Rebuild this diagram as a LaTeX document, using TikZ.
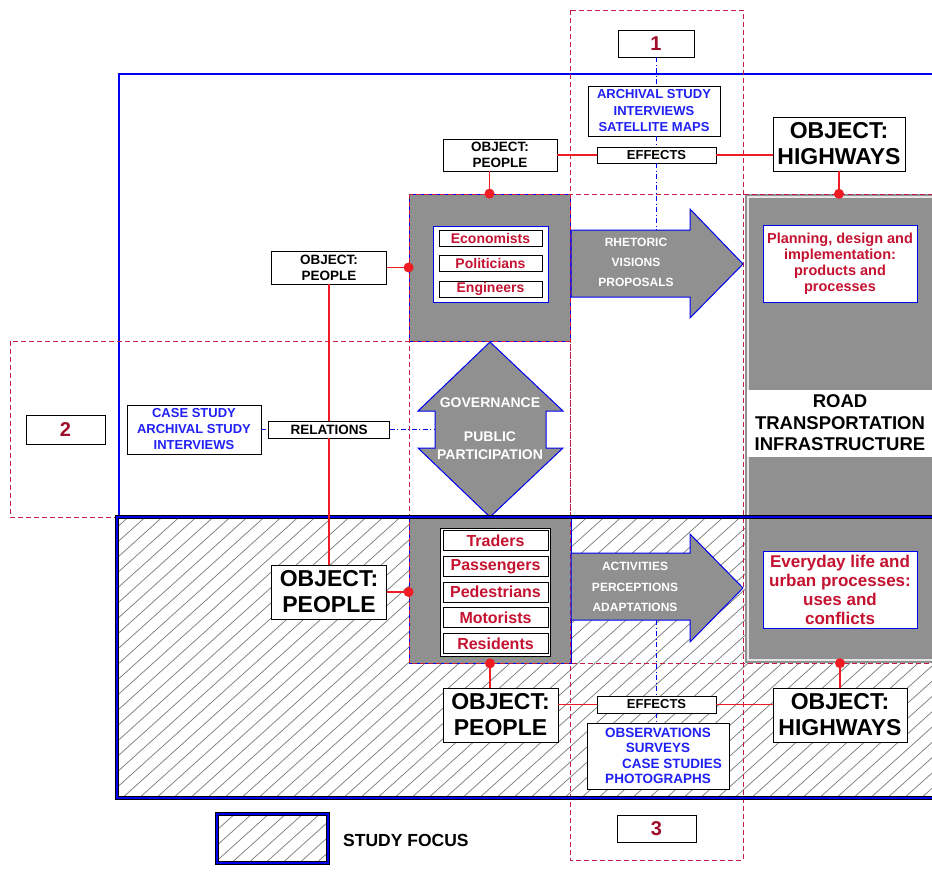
\documentclass[tikz,border=0pt]{standalone}
\usepackage{fontspec}
\setmainfont{Liberation Sans}
\usetikzlibrary{calc}

\definecolor{boxgray}{HTML}{909090}
\definecolor{txtred}{HTML}{C41230}
\definecolor{numred}{HTML}{9E0D2C}
\definecolor{linkred}{HTML}{F01C24}
\definecolor{dashred}{HTML}{C21E45}
\definecolor{txtblue}{HTML}{2020F5}
\definecolor{frameblue}{HTML}{0000F0}
\definecolor{hatchgray}{HTML}{7A7A7A}

\newcommand\fsz[2]{\fontsize{#1}{#2}\selectfont}

\tikzset{
  sz/.style 2 args={minimum width=#1, minimum height=#2},
  plainbox/.style={draw=black, line width=0.9pt, fill=white, inner sep=0pt, align=center, font=\bfseries},
  redbox/.style={plainbox, text=txtred},
  bluebox/.style={plainbox, text=txtblue},
  numbox/.style={plainbox, text=numred, font=\bfseries\fsz{20}{22}},
  framebox/.style={draw=frameblue, line width=0.9pt, fill=white, inner sep=0pt, align=center, text=txtred, font=\bfseries},
  graybox/.style={draw=frameblue, line width=0.8pt, fill=boxgray, inner sep=0pt},
  colbox/.style={fill=boxgray, inner sep=0pt},
  arrowshape/.style={draw=frameblue, line width=1pt, fill=boxgray, line join=miter},
  arrowtext/.style={text=white, font=\bfseries\fsz{12}{14}, inner sep=0pt},
  guide/.style={draw=dashred, line width=0.8pt, dash pattern=on 5pt off 3pt},
  probe/.style={draw=frameblue, line width=1pt, dash pattern=on 5pt off 2.5pt on 1pt off 2.5pt},
  link/.style={draw=linkred, line width=1.4pt},
  joint/.style={circle, fill=linkred, inner sep=0pt, minimum size=10pt},
  hatchline/.style={draw=hatchgray, line width=0.7pt},
  thinframe/.style={draw=frameblue, line width=1.1pt},
}

\begin{document}
\begin{tikzpicture}[x=1pt, y=-1pt]
\useasboundingbox (0,0) rectangle (932,884);
\clip (0,0) rectangle (932,884);
\fill[white] (0,0) rectangle (932,884);

% hatching of the study focus band and of the legend swatch
\begin{scope}
  \clip (117,517) rectangle (945,798);
  \foreach \k in {0,...,72} \draw[hatchline] ({-220+\k*17},800) -- ++(330,-297);
\end{scope}
\begin{scope}
  \clip (217,814) rectangle (328,863);
  \foreach \k in {0,...,12} \draw[hatchline] ({160+\k*17},866) -- ++(60,-54);
\end{scope}

% outer frame of the wider context
\draw[thinframe] (119,517) -- (119,74) -- (945,74);

% gray blocks
\node[graybox, sz={161pt}{147pt}] (pplU) at (489.5,267.5) {};
\node[graybox, sz={162pt}{146pt}] (pplL) at (490,590) {};
\node[colbox, sz={195pt}{469pt}] (roadcol) at (842.5,428.5) {};
\draw[white!80!gray, line width=1.2pt] (748,197) rectangle (945,660);
\fill[white] (747,390) rectangle (945,457);
\node[font=\bfseries\fsz{18.5}{21.5}, align=center, inner sep=0pt] (roadtxt) at (840,423)
  {ROAD\\TRANSPORTATION\\INFRASTRUCTURE};

% dashed analysis windows
\draw[guide] (570,10) rectangle (743,860);
\draw[guide] (10,341) rectangle (570,517);
\draw[guide] (409,194) rectangle (950,663);

% arrows
\draw[arrowshape] (571,230) -- (690,230) -- (690,209) -- (743,264) -- (690,318) -- (690,297) -- (571,297) -- cycle;
\coordinate (aUtop) at (656,230);
\node[arrowtext] (rhet) at (636,242) {RHETORIC};
\node[arrowtext] (vis) at (636,262) {VISIONS};
\node[arrowtext] (prop) at (636,282) {PROPOSALS};

\draw[arrowshape] (571,553) -- (690,553) -- (690,534) -- (743,588) -- (690,642) -- (690,620) -- (571,620) -- cycle;
\coordinate (aLbot) at (656,620);
\node[arrowtext] (act) at (635,566) {ACTIVITIES};
\node[arrowtext] (perc) at (635,587) {PERCEPTIONS};
\node[arrowtext] (adap) at (635,607) {ADAPTATIONS};

\draw[arrowshape] (490,342) -- (563,411) -- (546,411) -- (546,448) -- (563,448) -- (490,517)
  -- (418,448) -- (435,448) -- (435,411) -- (418,411) -- cycle;
\coordinate (dAleft) at (435,429.5);
\node[arrowtext, font=\bfseries\fsz{14}{16}] (gov) at (490,403) {GOVERNANCE};
\node[arrowtext, font=\bfseries\fsz{14}{16}] (pub) at (490,437) {PUBLIC};
\node[arrowtext, font=\bfseries\fsz{14}{16}] (part) at (490,455) {PARTICIPATION};

% study focus frame
\draw[black, line width=4pt] (117,517) rectangle (955,798);
\draw[frameblue, line width=1.6pt] (117,517) rectangle (955,798);

% actor lists
\node[framebox, sz={115pt}{76pt}] (listU) at (490.5,264) {};
\node[plainbox, text=txtred, font=\bfseries\fsz{14}{16}, sz={103pt}{16pt}] (econ) at (490.5,238) {Economists};
\node[plainbox, text=txtred, font=\bfseries\fsz{14}{16}, sz={103pt}{16pt}] (pol) at (490.5,263.5) {Politicians};
\node[plainbox, text=txtred, font=\bfseries\fsz{14}{16}, sz={103pt}{16pt}] (eng) at (490.5,289) {Engineers};

\node[plainbox, sz={110pt}{128pt}] (listL) at (495,592) {};
\node[plainbox, text=txtred, font=\bfseries\fsz{16}{18}, sz={105pt}{20pt}] (trad) at (495.5,540.5) {Traders};
\node[plainbox, text=txtred, font=\bfseries\fsz{16}{18}, sz={105pt}{20pt}] (pass) at (495.5,566.3) {Passengers};
\node[plainbox, text=txtred, font=\bfseries\fsz{16}{18}, sz={105pt}{20pt}] (pede) at (495.5,592) {Pedestrians};
\node[plainbox, text=txtred, font=\bfseries\fsz{16}{18}, sz={105pt}{20pt}] (moto) at (495.5,617.7) {Motorists};
\node[plainbox, text=txtred, font=\bfseries\fsz{16}{18}, sz={105pt}{20pt}] (resi) at (495.5,643.4) {Residents};

% outcome boxes
\node[framebox, font=\bfseries\fsz{14.5}{16}, sz={154pt}{77pt}] (plan) at (840,263.5)
  {Planning, design and\\implementation:\\products and\\processes};
\node[framebox, font=\bfseries\fsz{17}{19}, sz={154pt}{77pt}] (every) at (840,589.5)
  {Everyday life and\\urban processes:\\uses and\\conflicts};

% numbered windows
\node[numbox, sz={76pt}{27pt}] (n1) at (656,43.5) {1};
\node[numbox, sz={79pt}{29pt}] (n2) at (65.5,429.5) {2};
\node[numbox, sz={79pt}{27pt}] (n3) at (656.5,828.5) {3};

% methods
\node[bluebox, font=\bfseries\fsz{13}{16.5}, sz={132pt}{50pt}] (methA) at (654,111)
  {ARCHIVAL STUDY\\INTERVIEWS\\SATELLITE MAPS};
\node[bluebox, font=\bfseries\fsz{13}{16}, sz={134pt}{49pt}] (meth2) at (194,429.5)
  {CASE STUDY\\ARCHIVAL STUDY\\INTERVIEWS};
\node[bluebox, font=\bfseries\fsz{13.5}{15.5}, sz={142pt}{66pt}] (obs) at (658,756)
  {OBSERVATIONS\\SURVEYS\\\hspace*{28pt}CASE STUDIES\\PHOTOGRAPHS};

% object and relation labels
\node[plainbox, font=\bfseries\fsz{13}{15}, sz={119pt}{16pt}] (effT) at (656.5,155) {EFFECTS};
\node[plainbox, font=\bfseries\fsz{13}{15}, sz={119pt}{17pt}] (effB) at (656.5,704.5) {EFFECTS};
\node[plainbox, font=\bfseries\fsz{13.5}{15}, sz={121pt}{17pt}] (rel) at (329,429.5) {RELATIONS};
\node[plainbox, font=\bfseries\fsz{13.5}{16}, sz={114pt}{32pt}] (peopleT) at (500,155) {OBJECT:\\PEOPLE};
\node[plainbox, font=\bfseries\fsz{13.5}{16}, sz={115pt}{33pt}] (pplM) at (329,267.5) {OBJECT:\\PEOPLE};
\node[plainbox, font=\bfseries\fsz{23}{26}, sz={132pt}{54pt}] (hwyT) at (839,144) {OBJECT:\\HIGHWAYS};
\node[plainbox, font=\bfseries\fsz{23}{26}, sz={115pt}{54pt}] (pplBig) at (329,592) {OBJECT:\\PEOPLE};
\node[plainbox, font=\bfseries\fsz{23}{26}, sz={115pt}{54pt}] (pplB) at (500.5,715) {OBJECT:\\PEOPLE};
\node[plainbox, font=\bfseries\fsz{23}{26}, sz={134pt}{54pt}] (hwyB) at (840,715) {OBJECT:\\HIGHWAYS};

% red links between objects and blocks
\draw[link] (peopleT.east) -- (effT.west);
\draw[link] (effT.east) -- (effT.east -| hwyT.west);
\draw[link] (pplU.north) -- (pplU.north |- peopleT.south);
\draw[link] (hwyT.south) -- (hwyT.south |- roadcol.north);
\draw[link] (pplM.east) -- (pplM.east -| pplU.west);
\draw[link] (pplM.south) -- (rel.north);
\draw[link] (rel.south) -- (pplBig.north);
\draw[link] (pplBig.east) -- (pplBig.east -| pplL.west);
\draw[link] (pplL.south) -- (pplL.south |- pplB.north);
\draw[link] (effB.west -| pplB.east) -- (effB.west);
\draw[link] (effB.east) -- (effB.east -| hwyB.west);
\draw[link] (hwyB.north) -- (hwyB.north |- roadcol.south);

\node[joint] (j1) at (pplU.north) {};
\node[joint] (j2) at (hwyT.south |- roadcol.north) {};
\node[joint] (j3) at (pplM.east -| pplU.west) {};
\node[joint] (j4) at (pplBig.east -| pplL.west) {};
\node[joint] (j5) at (pplL.south) {};
\node[joint] (j6) at (hwyB.north |- roadcol.south) {};

% blue method probes
\draw[probe] (n1.south) -- (n1.south |- methA.north);
\draw[probe] (methA.south -| n1.south) -- (effT.north -| n1.south);
\draw[probe] (effT.south -| n1.south) -- (aUtop);
\draw[probe] (aLbot) -- (effB.north -| aLbot);
\draw[probe] (effB.south -| aLbot) -- (obs.north -| aLbot);
\draw[probe] (meth2.east) -- (rel.west);
\draw[probe] (rel.east) -- (dAleft);

% legend
\draw[black, line width=4pt] (217,814) rectangle (328,863);
\draw[frameblue, line width=1.6pt] (217,814) rectangle (328,863);
\node[anchor=west, font=\bfseries\fsz{17.5}{20}, inner sep=0pt] (legtxt) at (343,840) {STUDY FOCUS};
\end{tikzpicture}
\end{document}
